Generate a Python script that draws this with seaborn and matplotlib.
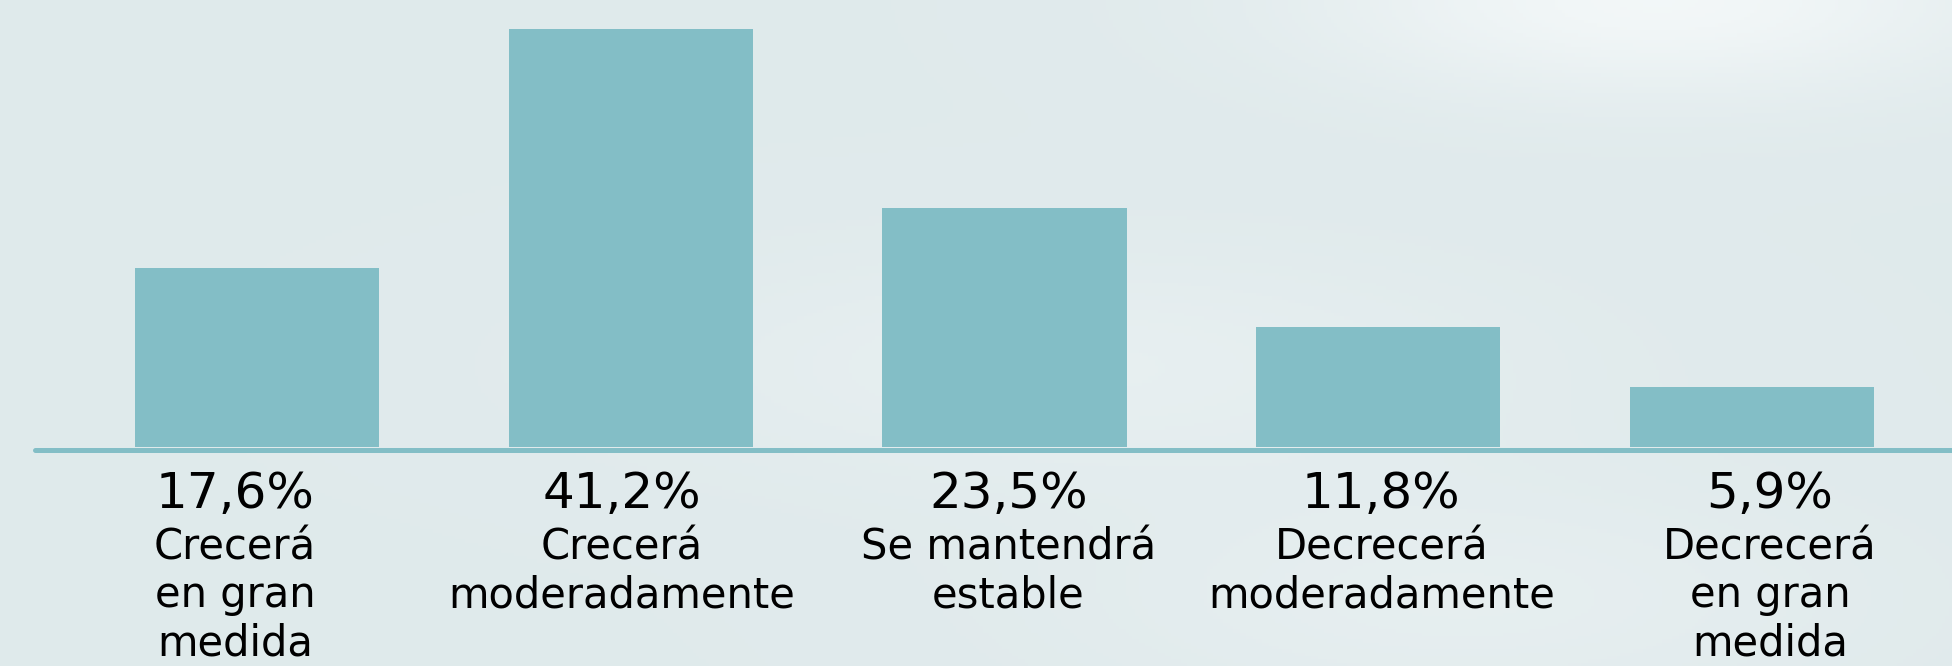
import numpy as np
import pandas as pd
import matplotlib
matplotlib.use("Agg")
import matplotlib.pyplot as plt
import seaborn as sns

# Datos
categorias = [
    "Crecerá\nen gran\nmedida",
    "Crecerá\nmoderadamente",
    "Se mantendrá\nestable",
    "Decrecerá\nmoderadamente",
    "Decrecerá\nen gran\nmedida",
]
porcentajes = [17.6, 41.2, 23.5, 11.8, 5.9]
etiquetas_pct = ["17,6%", "41,2%", "23,5%", "11,8%", "5,9%"]

# Estilo / layout
COLOR_BARRA = "#83bec6"
desplaz_x = [-22, -9, 4, 3, 18]  # px, centrado del texto bajo cada barra

sns.set_theme(style="white")
plt.rcParams["font.family"] = ["DejaVu Sans"]

fig = plt.figure(figsize=(19.52, 6.66), dpi=100)
fig.patch.set_facecolor("#e1ebed")

# fondo con brillo suave
fondo = fig.add_axes([0, 0, 1, 1], zorder=0)
yy, xx = np.mgrid[0:1:200j, 0:1:600j]
brillo = 0.9 * np.exp(-(((xx - 0.85) ** 2) / 0.03 + (yy ** 2) / 0.02))
brillo += 0.35 * np.exp(-(((xx - 0.55) ** 2) / 0.05 + ((yy - 0.55) ** 2) / 0.03))
brillo += 0.3 * np.exp(-(((xx - 0.75) ** 2) / 0.04 + ((yy - 0.9) ** 2) / 0.03))
base = np.array([0.878, 0.918, 0.925])
blanco = np.array([0.96, 0.975, 0.978])
img = base + np.clip(brillo, 0, 1)[..., None] * (blanco - base)
fondo.imshow(img, extent=[0, 1, 0, 1], aspect="auto", origin="upper")
fondo.axis("off")

ax = fig.add_axes([0, 0, 1, 1], zorder=1)
ax.patch.set_alpha(0)

df = pd.DataFrame({"categoria": categorias, "porcentaje": porcentajes})
sns.barplot(data=df, x="categoria", y="porcentaje", color=COLOR_BARRA,
            saturation=1, width=0.653, errorbar=None, linewidth=0, ax=ax, zorder=2)

k = 10.15  # px por punto porcentual
ax.set_xlim(-257 / 373.75, (1952 - 257) / 373.75)
ax.set_ylim(-219 / k, 447 / k)
ax.axhline(-2.5 / k, xmin=35 / 1952, xmax=1, color=COLOR_BARRA, lw=3.6, zorder=1)
ax.axis("off")

for i, (pct, cat, dx) in enumerate(zip(etiquetas_pct, categorias, desplaz_x)):
    ax.annotate(pct, xy=(i, 0), xytext=(dx, -61), textcoords="offset pixels",
                ha="center", va="baseline", fontsize=36, color="black")
    # cada línea de la categoría por separado
    for j, linea in enumerate(cat.split("\n")):
        ax.annotate(linea, xy=(i, 0), xytext=(dx, -112 - 48 * j),
                    textcoords="offset pixels", ha="center", va="baseline",
                    fontsize=30, color="black", annotation_clip=False)

fig.savefig("out.png", dpi=100, facecolor=fig.get_facecolor())
